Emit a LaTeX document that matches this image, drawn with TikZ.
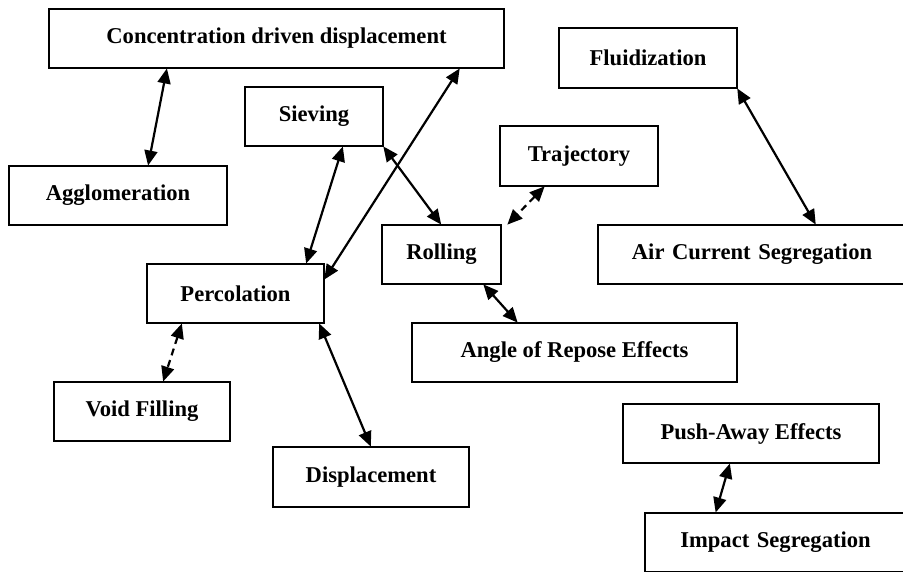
\documentclass[tikz,border=0pt]{standalone}
\usepackage{fontspec}
\setmainfont{Liberation Serif}
\usepackage{amsmath, amssymb}
\usetikzlibrary{shapes,arrows,arrows.meta,calc,positioning}

\begin{document}
\begin{tikzpicture}[x=1pt, y=-1pt,
  box/.style={rectangle, draw=black, line width=1.8pt, minimum height=59pt, inner sep=0pt, outer sep=0pt, font=\fontsize{22.6}{26}\selectfont\bfseries},
  link/.style={line width=2.2pt, {Triangle[length=15pt,width=13pt]}-{Triangle[length=15pt,width=13pt]}, shorten <=0.5pt, shorten >=0.5pt},
  dlink/.style={link, dash pattern=on 7pt off 5pt}]
  \useasboundingbox (0,0) rectangle (903,572);

  \node[box, minimum width=455pt] (conc) at (276.5,38.5) {Concentration driven displacement};
  \node[box, minimum width=218pt] (aggl) at (118,195.5) {Agglomeration};
  \node[box, minimum width=138pt] (siev) at (314,116.5) {Sieving};
  \node[box, minimum width=178pt, minimum height=60pt] (fluid) at (648,58) {Fluidization};
  \node[box, minimum width=158pt, minimum height=60pt] (traj) at (579,156) {Trajectory};
  \node[box, minimum width=119pt] (roll) at (441.5,254.5) {Rolling};
  \node[box, minimum width=308pt, text width=302pt, align=center] (air) at (752,254.5) {Air Current Segregation};
  \node[box, minimum width=177pt] (perc) at (235.5,293.5) {Percolation};
  \node[box, minimum width=325pt] (angle) at (574.5,352.5) {Angle of Repose Effects};
  \node[box, minimum width=176pt] (void) at (142,411.5) {Void Filling};
  \node[box, minimum width=196pt, minimum height=60pt] (disp) at (371,477) {Displacement};
  \node[box, minimum width=256pt] (push) at (751,433.5) {Push-Away Effects};
  \node[box, minimum width=261pt, text width=255pt, align=center] (impact) at (775.5,542.5) {Impact Segregation};

  \draw[link] ([xshift=-109.5pt]conc.south) -- ([xshift=30pt]aggl.north);
  \draw[link] ([xshift=29pt]siev.south) -- ([xshift=70.5pt]perc.north);
  \draw[link] (siev.south east) -- (roll.north);
  \draw[link] ([yshift=13.5pt]perc.east) -- ([xshift=183.5pt]conc.south);
  \draw[link] (fluid.south east) -- ([xshift=64pt]air.north);
  \draw[dlink] ([xshift=-34pt]traj.south) -- ([xshift=6pt]roll.north east);
  \draw[link] ([xshift=41.5pt]roll.south) -- ([xshift=-56.5pt]angle.north);
  \draw[dlink] ([xshift=-53.5pt]perc.south) -- ([xshift=21pt]void.north);
  \draw[link] ([xshift=83.5pt]perc.south) -- (disp.north);
  \draw[link] ([xshift=-21pt]push.south) -- ([xshift=-60pt]impact.north);

\end{tikzpicture}
\end{document}
